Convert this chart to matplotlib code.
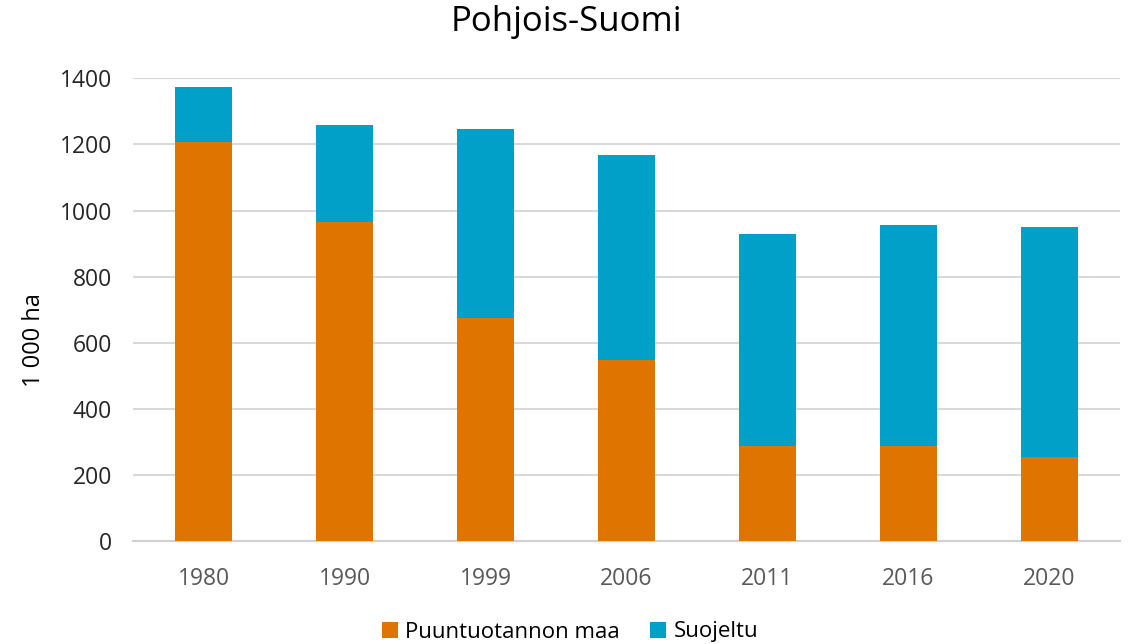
import matplotlib
matplotlib.use("Agg")
import matplotlib.pyplot as plt
import numpy as np

years = ["1980", "1990", "1999", "2006", "2011", "2016", "2020"]
puuntuotannon_maa = [1207, 965, 676, 548, 287, 287, 253]
suojeltu = [168, 294, 570, 621, 641, 669, 696]
series_names = ["Puuntuotannon maa", "Suojeltu"]
title = "Pohjois-Suomi"
ylabel = "1 000 ha"
yticks = [0, 200, 400, 600, 800, 1000, 1200, 1400]

plt.rcParams['font.family'] = ['Open Sans', 'DejaVu Sans']

W, H = 1128, 644
fig = plt.figure(figsize=(W / 100, H / 100), dpi=100)
ax = fig.add_axes([133 / W, 1 - 541 / H, (1120 - 133) / W, (541 - 78.3) / H])

orange = "#DF7400"
blue = "#00A0C8"
x = np.arange(len(years))
ax.bar(x, puuntuotannon_maa, width=0.4, color=orange, label=series_names[0], zorder=3)
ax.bar(x, suojeltu, width=0.4, bottom=puuntuotannon_maa, color=blue, label=series_names[1], zorder=3)

ax.set_xlim(-0.5, len(years) - 0.5)
ax.set_ylim(0, 1400)
ax.set_yticks(yticks)
ax.set_yticklabels([str(v) for v in yticks], fontsize=16.5, color="#262626")
ax.set_xticks(x)
ax.set_xticklabels(years, fontsize=16.5, color="#595959")
ax.tick_params(axis='y', length=0, pad=15)
ax.tick_params(axis='x', length=0, pad=19)
ax.grid(axis='y', color="#D9D9D9", linewidth=1.5, zorder=0)
for s in ["top", "right", "left"]:
    ax.spines[s].set_visible(False)
ax.spines["bottom"].set_color("#D0D0D0")
ax.spines["bottom"].set_linewidth(1.5)

fig.text(566 / W, 1 - 22 / H, title, fontsize=25, ha="center", va="center", color="black")
fig.text(34 / W, 1 - 340 / H, ylabel, fontsize=17, rotation=90, ha="center", va="center", color="black")

leg = fig.legend(loc="center", bbox_to_anchor=(570 / W, 1 - 632 / H), ncol=2, frameon=False,
                 fontsize=16, handlelength=0.7, handleheight=0.7, handletextpad=0.35,
                 columnspacing=1.35)

fig.savefig("out.png", dpi=100)
